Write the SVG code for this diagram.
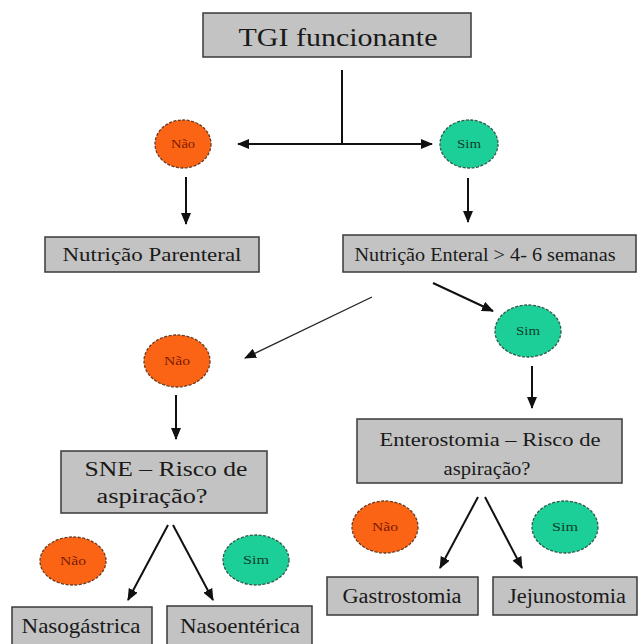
<svg xmlns="http://www.w3.org/2000/svg" width="638" height="644" viewBox="0 0 638 644">
<style>
.box{fill:#c3c3c3;stroke:#3a3a3a;stroke-width:1.5}
text{font-family:'Liberation Serif','DejaVu Serif','Times New Roman',serif}
.t{fill:#1a1a1a;text-anchor:middle}
.no{fill:#fb6414;stroke:#6a3a20;stroke-width:1.3;stroke-dasharray:3 1.5}
.yes{fill:#1ccf98;stroke:#2f5a48;stroke-width:1.3;stroke-dasharray:3 1.5}
.tn{font-size:12px;fill:#7a1a00;text-anchor:middle}
.ts{font-size:12px;fill:#0e3d2c;text-anchor:middle}
.c{stroke:#111;stroke-width:2;fill:none}
.thin{stroke:#222;stroke-width:1.3;fill:none}
</style>
<defs>
<marker id="ah" viewBox="0 0 12 10" refX="11" refY="5" markerWidth="12" markerHeight="10" markerUnits="userSpaceOnUse" orient="auto-start-reverse">
<path d="M0,0 L12,5 L0,10 Z" fill="#111"/>
</marker>
</defs>
<rect width="638" height="644" fill="#ffffff"/>

<g id="connectors">
<line class="c" x1="342" y1="70" x2="342" y2="144"/>
<line class="c" x1="238" y1="144" x2="432" y2="144" marker-start="url(#ah)" marker-end="url(#ah)"/>
<line class="c" x1="186" y1="177" x2="186" y2="224" marker-end="url(#ah)"/>
<line class="c" x1="468" y1="178" x2="468" y2="222" marker-end="url(#ah)"/>
<line class="c" x1="433" y1="283" x2="493" y2="311" marker-end="url(#ah)"/>
<line class="thin" x1="372" y1="297" x2="245" y2="358" marker-end="url(#ah)"/>
<line class="c" x1="532" y1="366" x2="532" y2="408" marker-end="url(#ah)"/>
<line class="c" x1="176" y1="395" x2="176" y2="439" marker-end="url(#ah)"/>
<line class="c" x1="168" y1="525" x2="128" y2="600" marker-end="url(#ah)"/>
<line class="c" x1="173" y1="525" x2="213" y2="600" marker-end="url(#ah)"/>
<line class="c" x1="478" y1="497" x2="440" y2="568" marker-end="url(#ah)"/>
<line class="c" x1="485" y1="497" x2="522" y2="568" marker-end="url(#ah)"/>
</g>

<g id="tgi">
<rect class="box" x="203" y="13" width="268" height="44"/>
<text class="t" x="338" y="46" font-size="26" textLength="199" lengthAdjust="spacingAndGlyphs">TGI funcionante</text>
</g>

<g id="nao1">
<ellipse class="no" cx="183" cy="144" rx="28" ry="24"/>
<text class="tn" x="183" y="148" textLength="24" lengthAdjust="spacingAndGlyphs">Não</text>
</g>
<g id="sim1">
<ellipse class="yes" cx="469" cy="144" rx="29" ry="24"/>
<text class="ts" x="469" y="148" textLength="24" lengthAdjust="spacingAndGlyphs">Sim</text>
</g>

<g id="parenteral">
<rect class="box" x="45" y="237" width="214" height="35"/>
<text class="t" x="152" y="261" font-size="18.5" textLength="179" lengthAdjust="spacingAndGlyphs">Nutrição Parenteral</text>
</g>

<g id="enteral">
<rect class="box" x="343" y="235" width="293" height="37"/>
<text class="t" x="485" y="261" font-size="18.5" textLength="261" lengthAdjust="spacingAndGlyphs">Nutrição Enteral &gt; 4- 6 semanas</text>
</g>

<g id="sim2">
<ellipse class="yes" cx="528" cy="331" rx="33" ry="26"/>
<text class="ts" x="528" y="335" textLength="24" lengthAdjust="spacingAndGlyphs">Sim</text>
</g>

<g id="nao2">
<ellipse class="no" cx="177" cy="361" rx="33" ry="26"/>
<text class="tn" x="177" y="365" textLength="26" lengthAdjust="spacingAndGlyphs">Não</text>
</g>

<g id="enterostomia">
<rect class="box" x="357" y="419" width="265" height="64"/>
<text class="t" x="490" y="446" font-size="19" textLength="221" lengthAdjust="spacingAndGlyphs">Enterostomia – Risco de</text>
<text class="t" x="487" y="475" font-size="19" textLength="87" lengthAdjust="spacingAndGlyphs">aspiração?</text>
</g>

<g id="sne">
<rect class="box" x="61" y="451" width="206" height="62"/>
<text class="t" x="166" y="476" font-size="20" textLength="163" lengthAdjust="spacingAndGlyphs">SNE – Risco de</text>
<text class="t" x="152" y="503" font-size="20" textLength="111" lengthAdjust="spacingAndGlyphs">aspiração?</text>
</g>

<g id="nao3">
<ellipse class="no" cx="73" cy="561" rx="33" ry="24"/>
<text class="tn" x="73" y="565" textLength="26" lengthAdjust="spacingAndGlyphs">Não</text>
</g>
<g id="sim3">
<ellipse class="yes" cx="256" cy="560" rx="33" ry="25"/>
<text class="ts" x="256" y="564" textLength="26" lengthAdjust="spacingAndGlyphs">Sim</text>
</g>

<g id="nao4">
<ellipse class="no" cx="385" cy="527" rx="33" ry="26"/>
<text class="tn" x="385" y="531" textLength="26" lengthAdjust="spacingAndGlyphs">Não</text>
</g>
<g id="sim4">
<ellipse class="yes" cx="565" cy="527" rx="33" ry="26"/>
<text class="ts" x="565" y="531" textLength="26" lengthAdjust="spacingAndGlyphs">Sim</text>
</g>

<g id="gastrostomia">
<rect class="box" x="327" y="577" width="151" height="38"/>
<text class="t" x="402" y="603" font-size="20" textLength="119" lengthAdjust="spacingAndGlyphs">Gastrostomia</text>
</g>
<g id="jejunostomia">
<rect class="box" x="493" y="577" width="144" height="38"/>
<text class="t" x="567" y="603" font-size="20" textLength="118" lengthAdjust="spacingAndGlyphs">Jejunostomia</text>
</g>

<g id="nasogastrica">
<rect class="box" x="12" y="607" width="140" height="40"/>
<text class="t" x="81" y="633" font-size="21" textLength="119" lengthAdjust="spacingAndGlyphs">Nasogástrica</text>
</g>
<g id="nasoenterica">
<rect class="box" x="167" y="606" width="145" height="41"/>
<text class="t" x="240" y="633" font-size="21" textLength="120" lengthAdjust="spacingAndGlyphs">Nasoentérica</text>
</g>
</svg>
